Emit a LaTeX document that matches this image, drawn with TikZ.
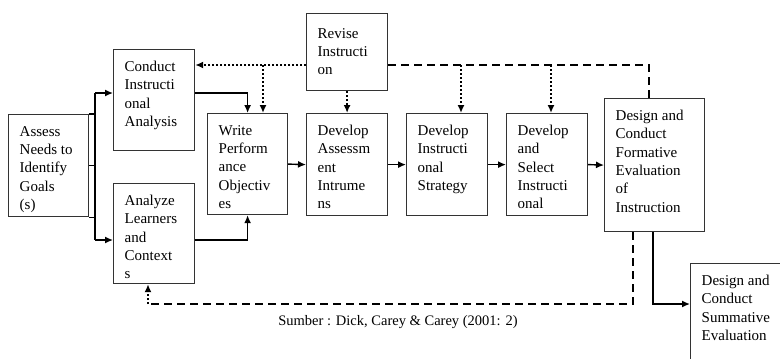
\documentclass[tikz,border=0pt]{standalone}
\usepackage{fontspec}
\setmainfont{Liberation Serif}
\usetikzlibrary{arrows.meta, calc}
\tikzstyle{block} = [rectangle, draw=black!80, line width=1.2pt, inner sep=0pt, anchor=north west, minimum width=81pt, minimum height=101pt]
\tikzstyle{txt} = [anchor=north west, align=left, inner xsep=11.5pt, inner ysep=12pt, font=\fontsize{15}{18.3}\selectfont]
\tikzstyle{line} = [line width=1.4pt]
\tikzstyle{arrow} = [line, -{Latex[length=8pt,width=7pt]}]
\tikzstyle{dotarrow} = [line width=2pt, dotted, -{Latex[length=8pt,width=7pt]}]
\tikzstyle{dashline} = [line width=2pt, dash pattern=on 8pt off 5pt]

\begin{document}
\begin{tikzpicture}[x=1pt, y=-1pt]
        \useasboundingbox (0,0) rectangle (780,359);

        % Boxes
        \node (assess) [block, minimum width=80pt, minimum height=102pt, label={[txt]north west:Assess\\Needs to\\Identify\\Goals\\(s)}] at (8,114) {};
        \node (conduct) [block, label={[txt]north west:Conduct\\Instructi\\onal\\Analysis}] at (113,49) {};
        \node (analyze) [block, minimum height=100pt, label={[txt]north west:Analyze\\Learners\\and\\Context\\s}] at (113,183) {};
        \node (write) [block, minimum width=80pt, label={[txt]north west:Write\\Perform\\ance\\Objectiv\\es}] at (207,113) {};
        \node (revise) [block, minimum height=77pt, label={[txt, inner ysep=15pt]north west:Revise\\Instructi\\on}] at (306,13) {};
        \node (devassess) [block, minimum height=102pt, label={[txt]north west:Develop\\Assessm\\ent\\Intrume\\ns}] at (306,113) {};
        \node (devstrat) [block, minimum height=102pt, label={[txt]north west:Develop\\Instructi\\onal\\Strategy}] at (406,113) {};
        \node (devselect) [block, minimum height=102pt, label={[txt]north west:Develop\\and\\Select\\Instructi\\onal}] at (506,113) {};
        \node (formative) [block, minimum width=100pt, minimum height=133pt, label={[txt]north west:Design and\\Conduct\\Formative\\Evaluation\\of\\Instruction}] at (604,98) {};
        \node (summative) [block, minimum width=100pt, minimum height=110pt, label={[txt]north west:Design and\\Conduct\\Summative\\Evaluation}] at (690,263) {};

        % Source
        \node (source) [font=\fontsize{14.5}{17}\selectfont] at (398,322) {Sumber : Dick, Carey \& Carey (2001: 2)};

        % Bus from the first box
        \coordinate (bustop) at (95,93);
        \coordinate (busbot) at (95,240);
        \draw [line] (bustop) -- (busbot);
        \draw [line] (assess.east) -- (assess.east -| bustop);
        \draw [line] (assess.north east) -- (assess.north east -| bustop);
        \draw [line] (assess.south east) -- (assess.south east -| bustop);
        \draw [arrow] (bustop) -- (bustop -| conduct.west);
        \draw [arrow] (busbot) -- (busbot -| analyze.west);

        % Main path
        \draw [arrow] (bustop -| conduct.east) -| (write.north);
        \draw [arrow] (busbot -| analyze.east) -| (write.south);
        \draw [arrow] (write.east) -- (devassess.west);
        \draw [arrow] (devassess.east) -- (devstrat.west);
        \draw [arrow] (devstrat.east) -- (devselect.west);
        \draw [arrow] (devselect.east) -- (formative.west);

        % Revision paths
        \coordinate (fbleft) at (263,65);
        \coordinate (fbright) at (649,65);
        \coordinate (tostrat) at (461,65);
        \coordinate (toselect) at (551,65);
        \draw [dotarrow] (revise.west |- fbleft) -- (conduct.east |- fbleft);
        \draw [dotarrow] (fbleft) -- (fbleft |- write.north);
        \draw [dotarrow] (revise.south) -- (devassess.north);
        \draw [dashline] (revise.east |- fbright) -- (fbright) -- (fbright |- formative.north);
        \draw [dotarrow] (tostrat) -- (tostrat |- devstrat.north);
        \draw [dotarrow] (toselect) -- (toselect |- devselect.north);

        % Feedback to learners
        \coordinate (fbout) at (633,304);
        \coordinate (fbin) at (148,304);
        \draw [dashline] (fbout |- formative.south) -- (fbout) -- (fbin);
        \draw [dotarrow] (fbin) -- (fbin |- analyze.south);

        % Summative
        \coordinate (sumin) at (653,304);
        \draw [arrow] (sumin |- formative.south) -- (sumin) -- (sumin -| summative.west);

\end{tikzpicture}
\end{document}
